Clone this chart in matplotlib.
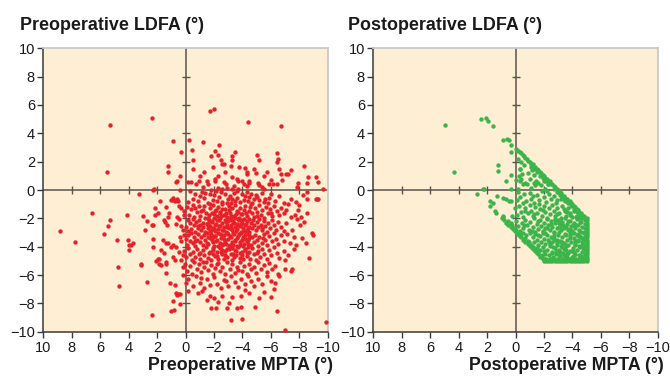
import matplotlib
matplotlib.use("Agg")
import matplotlib.pyplot as plt

plt.rcParams["font.family"] = ["Liberation Sans", "DejaVu Sans"]

# ---- preoperative (MPTA, LDFA) pairs ----
pre_outer = [
    (2.35, 5.1), (5.3, 4.6), (5.5, 1.25), (6.6, -1.65), (8.8, -2.9), (7.8, -3.65),
    (5.75, -3.1), (5.45, -2.55), (5.3, -2.15), (4.85, -3.5), (4.1, -1.75), (4.05, -3.5),
    (3.95, -3.85), (3.8, -3.85), (3.7, -3.75), (3.95, -4.25), (4.75, -5.4), (4.7, -6.8),
    (3.15, -5.3), (3.1, -5.25), (2.7, -6.5), (2.98, -1.8), (2.85, -2.8), (2.7, -2.2),
    (2.35, -8.8), (2.15, -1.25), (2.15, -1.75), (1.95, -1.6), (2.35, -2.5), (2.3, -2.5),
    (2.3, -3.45), (2.3, -4.05), (1.95, -4.85), (1.85, -4.85), (2.05, -5.0), (1.85, -5.2),
    (1.75, -5.3), (1.8, -0.8), (1.4, -1.2), (1.5, -2.15), (1.45, -2.25), (1.3, -2.5),
    (1.15, -1.6), (1.25, -1.9), (1.55, -3.55), (1.4, -3.75), (1.25, -3.75), (1.7, -4.25),
    (1.5, -4.45), (1.4, -5.1), (1.35, -5.25), (1.1, -6.55), (1.35, -5.85), (0.7, -7.3),
    (0.55, -7.35), (0.4, -7.35), (0.85, -7.85), (1.0, -8.55), (0.8, -8.45), (0.6, -7.4),
    (0.4, -8.05), (0.75, -6.7), (0.85, -4.75), (0.75, -4.95), (1.0, -4.0), (0.85, -3.9),
    (0.65, -4.0), (1.05, -0.7), (0.85, -0.7), (0.75, -0.8), (0.55, -0.75), (0.45, -1.1),
    (0.35, -1.3), (0.6, -1.9), (0.45, -2.05), (0.7, -2.4), (0.3, -2.55), (0.2, -2.85),
    (0.1, -3.15), (0.4, -3.3), (0.3, -3.6), (0.45, -4.4), (0.2, -4.6), (0.15, -5.45),
    (0.15, -6.0), (0.0, -6.55), (0.3, -4.95), (0.1, -1.45), (0.1, -1.75), (2.3, 0.0),
    (2.2, 0.05), (3.25, -0.3), (1.2, 1.7), (1.2, 1.3), (0.85, 3.45), (0.3, 2.65),
    (0.37, 1.0), (0.7, 0.55), (0.6, 0.6), (0.4, 0.0), (0.9, -0.55), (0.6, -0.65),
]
pre_upper = [
    (-4.4, 4.8), (-6.7, 4.5), (-1.7, 5.57), (-2.0, 5.74), (-0.25, 3.55), (-1.25, 3.4),
    (-2.35, 3.2), (-0.45, 2.8), (-1.8, 2.4), (-2.1, 2.75), (-2.3, 2.5), (-3.5, 2.7),
    (-3.25, 2.4), (-3.25, 2.15), (-0.5, 2.15), (-2.5, 2.15), (-2.6, 1.85), (-2.7, 1.8),
    (-5.05, 2.45), (-5.2, 2.1), (-6.45, 2.6), (-6.4, 1.95), (-3.2, 1.7), (-3.75, 1.6),
    (-4.15, 1.55), (-4.3, 1.3), (-4.8, 1.5), (-4.95, 1.2), (-1.9, 1.6), (-1.3, 1.3),
    (-0.55, 1.45), (-2.8, 1.25), (-3.3, 0.9), (-3.6, 0.8), (-3.7, 0.6), (-4.3, 1.1),
    (-4.5, 0.6), (-5.5, 1.0), (-6.0, 0.7), (-6.15, 0.4), (-6.6, 1.45), (-6.7, 1.15),
    (-7.1, 1.15), (-7.2, 1.1), (-6.8, 0.7), (-7.4, 1.4), (-8.3, 1.7), (-7.9, 0.5),
    (-7.85, 0.2), (-9.2, 0.9), (-9.35, 0.55), (-9.7, 0.05), (-8.55, 0.5), (-5.9, 0.45),
    (-6.4, 0.4), (-2.7, 0.55), (-2.85, 0.45), (-2.05, 0.65), (-2.1, 0.75), (-1.6, 0.45),
    (-1.5, 0.6), (-0.75, 0.45), (-0.95, 0.6), (-0.4, 0.55), (-0.15, 0.55), (-4.1, 0.45),
    (-4.3, 0.3), (-4.5, 0.5), (-4.0, 0.6), (-5.1, 0.5), (-5.2, 0.35), (-5.4, 0.2),
    (-5.55, 0.05), (-3.4, 0.25), (-3.25, 0.1), (-2.95, 0.15), (-3.7, 0.05), (-1.25, 0.2),
    (-1.8, 0.0), (-2.3, 0.15), (-2.6, 0.1), (-8.6, 0.95), (-6.5, 2.2), (-5.7, 1.3),
    (-1.0, 1.0), (-2.3, 1.0),
]
pre_core = [
    # 0 .. -1
    (-0.35, -0.1), (-0.5, -0.6), (-0.7, -0.3), (-0.9, -0.8), (-1.15, -0.15), (-1.3, -0.55),
    (-1.55, -0.9), (-1.75, -0.3), (-1.95, -0.7), (-2.15, -0.1), (-2.35, -0.5), (-2.6, -0.85),
    (-2.8, -0.25), (-3.0, -0.65), (-3.2, -0.95), (-3.4, -0.2), (-3.65, -0.55), (-3.8, -0.85),
    (-3.95, -0.3), (-4.1, -0.7), (-4.35, -0.15), (-4.5, -0.5), (-4.7, -0.9), (-4.95, -0.35),
    (-5.15, -0.7), (-5.35, -0.2), (-5.6, -0.6), (-5.8, -0.95), (-6.0, -0.3), (-6.3, -0.75),
    (-6.6, -0.45), (-7.2, -1.0), (-7.4, -0.6), (-7.75, -0.85), (-8.25, -0.35), (-8.55, -0.65),
    (-8.55, -0.15), (-9.15, -0.6), (-9.25, -0.65), (-9.3, -0.6), (-1.0, -0.45), (-2.0, -0.35),
    (-2.5, -0.15), (-3.1, -0.4), (-3.6, -0.1), (-4.2, -0.45), (-4.8, -0.6), (-5.5, -0.85),
    (-0.2, -0.85), (-1.7, -1.0), (-2.9, -0.95), (-3.5, -0.75), (-4.6, -0.25), (-5.9, -0.55),
    (-6.9, -0.9), (-1.4, -0.2), (-2.25, -0.75), (-3.3, -0.6), (-4.4, -0.8), (-5.05, -0.5),
    # -1 .. -2
    (-0.1, -1.2), (-0.25, -1.75), (-0.4, -1.35), (-0.55, -1.05), (-0.6, -1.9), (-0.8, -1.55),
    (-0.95, -1.15), (-1.05, -1.8), (-1.2, -1.4), (-1.3, -1.1), (-1.45, -1.65), (-1.6, -1.95),
    (-1.7, -1.3), (-1.85, -1.6), (-1.95, -1.05), (-2.1, -1.45), (-2.2, -1.85), (-2.3, -1.2),
    (-2.45, -1.55), (-2.55, -1.0), (-2.7, -1.75), (-2.8, -1.35), (-2.95, -1.9), (-3.05, -1.15),
    (-3.15, -1.6), (-3.3, -1.3), (-3.4, -1.85), (-3.5, -1.05), (-3.65, -1.5), (-3.75, -1.95),
    (-3.85, -1.25), (-4.0, -1.7), (-4.1, -1.4), (-4.2, -1.1), (-4.35, -1.8), (-4.45, -1.5),
    (-4.55, -1.2), (-4.7, -1.65), (-4.8, -1.9), (-4.9, -1.3), (-5.05, -1.55), (-5.15, -1.05),
    (-5.3, -1.75), (-5.4, -1.4), (-5.55, -1.95), (-5.65, -1.2), (-5.8, -1.6), (-5.95, -1.35),
    (-6.1, -1.85), (-6.2, -1.1), (-6.4, -1.5), (-6.55, -1.75), (-6.75, -1.25), (-6.95, -1.65),
    (-7.1, -1.4), (-7.4, -1.9), (-7.7, -1.75), (-7.9, -1.4), (-8.0, -1.05), (-8.15, -1.9),
    (-8.55, -1.6), (-1.1, -1.5), (-2.0, -1.7), (-2.6, -1.35), (-3.55, -1.7), (-4.6, -1.0),
    (-5.0, -1.85), (-6.0, -1.6), (-0.7, -1.25), (-3.2, -1.95),
    # -2 .. -3
    (-0.05, -2.6), (-0.15, -2.15), (-0.2, -2.9), (-0.3, -2.35), (-0.4, -2.75), (-0.5, -2.05),
    (-0.6, -2.5), (-0.7, -2.95), (-0.75, -2.25), (-0.85, -2.7), (-0.95, -2.1), (-1.0, -2.45),
    (-1.1, -2.85), (-1.2, -2.3), (-1.25, -2.6), (-1.35, -2.0), (-1.4, -2.95), (-1.5, -2.4),
    (-1.55, -2.7), (-1.65, -2.15), (-1.7, -2.55), (-1.8, -2.85), (-1.85, -2.25), (-1.95, -2.65),
    (-2.0, -2.0), (-2.1, -2.9), (-2.15, -2.4), (-2.25, -2.15), (-2.3, -2.75), (-2.4, -2.55),
    (-2.45, -2.0), (-2.55, -2.85), (-2.6, -2.3), (-2.7, -2.6), (-2.75, -2.1), (-2.85, -2.95),
    (-2.9, -2.45), (-3.0, -2.2), (-3.05, -2.7), (-3.15, -2.05), (-3.2, -2.5), (-3.3, -2.85),
    (-3.35, -2.25), (-3.45, -2.6), (-3.5, -2.0), (-3.6, -2.4), (-3.65, -2.75), (-3.75, -2.15),
    (-3.8, -2.55), (-3.9, -2.95), (-3.95, -2.3), (-4.05, -2.65), (-4.1, -2.05), (-4.2, -2.45),
    (-4.3, -2.8), (-4.35, -2.2), (-4.45, -2.6), (-4.5, -2.95), (-4.6, -2.35), (-4.7, -2.7),
    (-4.75, -2.1), (-4.85, -2.5), (-4.95, -2.85), (-5.0, -2.25), (-5.1, -2.6), (-5.2, -2.05),
    (-5.3, -2.45), (-5.4, -2.8), (-5.5, -2.2), (-5.6, -2.55), (-5.7, -2.95), (-5.8, -2.35),
    (-5.95, -2.7), (-6.05, -2.1), (-6.2, -2.5), (-6.35, -2.85), (-6.5, -2.25), (-6.7, -2.6),
    (-6.9, -2.9), (-7.1, -2.3), (-7.5, -2.8), (-7.85, -2.05), (-8.05, -2.45), (-8.3, -2.25),
    (-2.05, -2.5), (-2.95, -2.6), (-3.7, -2.45), (-1.6, -2.35), (-4.15, -2.9), (-5.35, -2.65),
    (-0.9, -2.55),
    # -3 .. -4
    (0.0, -3.45), (-0.1, -3.85), (-0.2, -3.15), (-0.3, -3.6), (-0.4, -3.05), (-0.5, -3.75),
    (-0.6, -3.3), (-0.7, -3.95), (-0.8, -3.5), (-0.9, -3.1), (-1.0, -3.7), (-1.1, -3.35),
    (-1.2, -3.9), (-1.3, -3.2), (-1.4, -3.55), (-1.5, -3.0), (-1.6, -3.8), (-1.7, -3.4),
    (-1.8, -3.15), (-1.9, -3.65), (-2.0, -3.95), (-2.1, -3.25), (-2.2, -3.5), (-2.3, -3.05),
    (-2.4, -3.75), (-2.5, -3.4), (-2.6, -3.9), (-2.7, -3.2), (-2.8, -3.6), (-2.9, -3.0),
    (-3.0, -3.45), (-3.1, -3.85), (-3.2, -3.3), (-3.3, -3.7), (-3.4, -3.1), (-3.5, -3.55),
    (-3.6, -3.95), (-3.7, -3.25), (-3.8, -3.65), (-3.9, -3.05), (-4.0, -3.5), (-4.1, -3.8),
    (-4.2, -3.2), (-4.3, -3.6), (-4.4, -3.0), (-4.5, -3.4), (-4.6, -3.9), (-4.7, -3.3),
    (-4.8, -3.7), (-4.9, -3.15), (-5.0, -3.55), (-5.1, -3.95), (-5.2, -3.35), (-5.35, -3.75),
    (-5.5, -3.1), (-5.6, -3.5), (-5.75, -3.85), (-5.9, -3.25), (-6.05, -3.6), (-6.2, -3.05),
    (-6.35, -3.45), (-6.5, -3.8), (-6.7, -3.2), (-6.9, -3.6), (-7.15, -3.1), (-7.35, -3.75),
    (-7.6, -3.35), (-7.8, -3.9), (-8.2, -3.4), (-8.45, -3.75), (-8.9, -3.05), (-8.95, -3.2),
    (-1.55, -3.3), (-2.45, -3.1), (-3.35, -3.85), (-4.25, -3.45), (-2.85, -3.8), (-0.65, -3.6),
    (-5.45, -3.4), (-1.95, -3.3), (-3.95, -3.55),
    # -4 .. -5
    (0.1, -4.3), (-0.05, -4.75), (-0.2, -4.1), (-0.3, -4.55), (-0.45, -4.95), (-0.55, -4.35),
    (-0.7, -4.7), (-0.8, -4.15), (-0.95, -4.5), (-1.05, -4.9), (-1.2, -4.25), (-1.3, -4.6),
    (-1.45, -4.05), (-1.55, -4.8), (-1.7, -4.4), (-1.8, -4.95), (-1.95, -4.2), (-2.05, -4.65),
    (-2.2, -4.35), (-2.3, -4.85), (-2.45, -4.1), (-2.55, -4.55), (-2.7, -4.9), (-2.8, -4.3),
    (-2.95, -4.7), (-3.05, -4.15), (-3.2, -4.5), (-3.3, -4.95), (-3.45, -4.25), (-3.55, -4.6),
    (-3.7, -4.05), (-3.8, -4.8), (-3.95, -4.4), (-4.05, -4.9), (-4.2, -4.2), (-4.3, -4.65),
    (-4.45, -4.35), (-4.55, -4.85), (-4.7, -4.1), (-4.8, -4.55), (-4.95, -4.95), (-5.1, -4.3),
    (-5.25, -4.7), (-5.4, -4.15), (-5.55, -4.5), (-5.7, -4.9), (-5.85, -4.25), (-6.0, -4.6),
    (-6.2, -4.05), (-6.4, -4.45), (-6.6, -4.8), (-6.9, -4.3), (-7.0, -4.95), (-7.2, -4.6),
    (-7.6, -4.15), (-8.7, -4.8), (-1.0, -4.45), (-2.6, -4.25), (-3.4, -4.7), (-4.4, -4.0),
    (-5.0, -4.45), (-1.9, -4.55),
    # -5 .. -6
    (0.05, -5.2), (-0.1, -5.7), (-0.3, -5.35), (-0.45, -5.9), (-0.6, -5.1), (-0.8, -5.55),
    (-0.95, -5.25), (-1.1, -5.8), (-1.3, -5.45), (-1.45, -5.05), (-1.6, -5.65), (-1.8, -5.3),
    (-1.95, -5.95), (-2.1, -5.5), (-2.3, -5.15), (-2.45, -5.75), (-2.6, -5.4), (-2.8, -5.9),
    (-2.95, -5.05), (-3.1, -5.6), (-3.3, -5.25), (-3.45, -5.85), (-3.6, -5.45), (-3.8, -5.1),
    (-3.95, -5.7), (-4.1, -5.35), (-4.3, -5.95), (-4.45, -5.2), (-4.6, -5.6), (-4.8, -5.4),
    (-4.95, -5.85), (-5.1, -5.1), (-5.3, -5.55), (-5.5, -5.3), (-5.7, -5.8), (-5.9, -5.15),
    (-6.1, -5.6), (-6.3, -5.35), (-6.5, -5.9), (-7.0, -5.6), (-7.4, -5.75), (-7.5, -5.6),
    (-2.2, -5.25), (-3.7, -5.65), (-1.2, -5.1),
    # -6 .. -7
    (-0.2, -6.3), (-0.5, -6.8), (-0.75, -6.1), (-1.0, -6.55), (-1.3, -6.95), (-1.5, -6.25),
    (-1.75, -6.7), (-2.0, -6.15), (-2.25, -6.6), (-2.5, -6.9), (-2.7, -6.35), (-3.0, -6.75),
    (-3.2, -6.1), (-3.45, -6.5), (-3.7, -6.85), (-3.9, -6.3), (-4.15, -6.65), (-4.4, -6.05),
    (-4.6, -6.45), (-4.85, -6.8), (-5.1, -6.25), (-5.35, -6.6), (-5.7, -6.1), (-6.0, -6.4),
    (-6.3, -6.55), (-6.6, -6.05), (-1.1, -6.2), (-2.85, -6.45),
    # -7 .. -10
    (-0.15, -7.1), (-0.9, -7.3), (-1.15, -7.1), (-1.75, -7.5), (-2.0, -7.65), (-2.6, -7.45),
    (-2.3, -7.9), (-3.05, -7.95), (-3.3, -7.55), (-3.9, -7.5), (-4.5, -7.3), (-5.2, -7.6),
    (-5.5, -7.2), (-6.0, -7.55), (-6.2, -7.0), (-4.2, -7.05), (-1.5, -7.75),
    (-1.8, -8.3), (-2.15, -8.3), (-2.9, -8.3), (-3.2, -9.2), (-4.0, -9.1), (-3.9, -8.25),
    (-3.6, -8.3), (-4.9, -8.25), (-6.4, -8.55), (-7.0, -9.85), (-9.9, -9.35),
]
# densest part of the preoperative cloud
pre_center = [
    (-1.62, -1.78), (-2.33, -2.12), (-2.87, -1.62), (-3.42, -2.33), (-3.93, -1.72),
    (-4.38, -2.68), (-1.77, -3.08), (-2.18, -3.62), (-2.64, -2.83), (-3.12, -3.27),
    (-3.58, -2.92), (-4.07, -3.33), (-4.42, -3.83), (-1.92, -4.12), (-2.47, -4.38),
    (-3.03, -3.93), (-3.52, -4.27), (-3.98, -4.62), (-1.58, -2.48), (-2.02, -2.77),
    (-2.72, -3.47), (-3.27, -2.13), (-3.77, -3.12), (-4.23, -2.38), (-2.53, -1.87),
    (-3.07, -1.42), (-3.68, -1.57), (-4.28, -1.63), (-1.83, -3.52), (-2.28, -3.92),
    (-2.93, -4.17), (-3.33, -4.52), (-3.83, -3.87), (-4.17, -4.17), (-1.67, -4.48),
    (-2.12, -1.38), (-2.57, -3.17), (-3.18, -2.67), (-3.63, -3.42), (-4.12, -2.87),
    (-4.47, -3.18), (-1.73, -2.92), (-2.38, -2.57), (-2.98, -3.08), (-3.47, -3.63),
    (-3.88, -2.43), (-4.33, -4.43), (-2.22, -4.68), (-2.78, -4.62), (-3.22, -1.83),
    (-3.72, -2.08), (-4.02, -3.97), (-2.43, -1.62), (-1.88, -2.22), (-2.67, -3.83),
    (-3.37, -3.02), (-3.82, -4.42), (-4.37, -3.52), (-1.52, -3.73), (-2.08, -3.28),
    (-2.83, -2.23), (-3.28, -4.08), (-3.97, -2.12), (-4.48, -2.03),
]

# ---- postoperative (MPTA, LDFA) pairs ----
post_outer = [
    (4.95, 4.6), (4.3, 1.3), (2.4, 5.0), (2.05, 5.05), (1.9, 4.9), (1.55, 4.55), (0.9, 3.5),
    (0.6, 3.6), (0.45, 3.5), (0.3, 3.2), (0.3, 2.7), (1.2, 1.75), (1.2, 1.35), (0.65, 0.6),
    (0.3, 1.05), (2.7, -0.25), (2.3, 0.05), (2.2, 0.05), (1.8, -0.75), (1.55, -0.9),
    (1.8, -1.1), (1.45, -1.5), (1.35, -1.65), (1.3, -0.4), (0.85, -0.55), (0.65, -0.65),
    (0.45, -0.75), (0.35, -0.8), (0.35, 0.05), (0.9, -1.8), (0.25, -1.8),
]
post_edge = [
    # upper diagonal
    (0.0, 2.9), (-0.1, 2.85), (-0.2, 2.75), (-0.3, 2.65), (-0.4, 2.6), (-0.5, 2.45),
    (-0.6, 2.4), (-0.7, 2.25), (-0.8, 2.2), (-0.9, 2.05), (-1.0, 2.0), (-1.1, 1.85),
    (-1.2, 1.8), (-1.3, 1.65), (-1.4, 1.6), (-1.5, 1.45), (-1.6, 1.4), (-1.7, 1.25),
    (-1.8, 1.2), (-1.9, 1.05), (-2.0, 1.0), (-2.1, 0.85), (-2.2, 0.8), (-2.3, 0.65),
    (-2.4, 0.6), (-2.5, 0.45), (-2.6, 0.4), (-2.7, 0.25), (-2.8, 0.2), (-2.9, 0.05),
    (-3.0, 0.0), (-3.1, -0.15), (-3.2, -0.2), (-3.3, -0.35), (-3.4, -0.4), (-3.5, -0.55),
    (-3.6, -0.6), (-3.7, -0.75), (-3.8, -0.8), (-3.9, -0.95), (-4.0, -1.0), (-4.1, -1.15),
    (-4.2, -1.2), (-4.3, -1.35), (-4.4, -1.4), (-4.5, -1.55), (-4.6, -1.6), (-4.7, -1.75),
    (-4.8, -1.8), (-4.9, -1.95), (-5.0, -2.0),
    (-1.1, 1.65), (-1.5, 1.25), (-1.9, 0.85), (-2.3, 0.45), (-2.7, 0.05), (-3.1, -0.35),
    (-3.5, -0.75), (-3.9, -1.15), (-4.3, -1.55), (-4.7, -1.95), (-2.1, 0.65), (-2.9, -0.15),
    (-3.7, -0.95), (-4.5, -1.75), (-1.3, 1.45), (-3.3, -0.55), (-4.1, -1.35),
    # right edge
    (-5.0, -2.15), (-5.0, -2.3), (-5.0, -2.45), (-5.0, -2.6), (-5.0, -2.75), (-5.0, -2.9),
    (-5.0, -3.05), (-5.0, -3.2), (-5.0, -3.35), (-5.0, -3.5), (-5.0, -3.65), (-5.0, -3.8),
    (-5.0, -3.95), (-5.0, -4.1), (-5.0, -4.25), (-5.0, -4.4), (-5.0, -4.55), (-5.0, -4.7),
    (-5.0, -4.85), (-5.0, -5.0), (-4.9, -2.1), (-4.9, -2.4), (-4.88, -2.7), (-4.9, -3.0),
    (-4.88, -3.3), (-4.9, -3.6), (-4.9, -3.9), (-4.88, -4.2), (-4.9, -4.5), (-4.9, -4.8),
    # bottom edge
    (-2.0, -5.0), (-2.15, -5.0), (-2.3, -5.0), (-2.45, -5.0), (-2.6, -5.0), (-2.75, -5.0),
    (-2.9, -5.0), (-3.05, -5.0), (-3.2, -5.0), (-3.35, -5.0), (-3.5, -5.0), (-3.65, -5.0),
    (-3.8, -5.0), (-3.95, -5.0), (-4.1, -5.0), (-4.25, -5.0), (-4.4, -5.0), (-4.55, -5.0),
    (-4.7, -5.0), (-4.85, -5.0), (-2.1, -4.9), (-2.4, -4.9), (-2.7, -4.88), (-3.0, -4.9),
    (-3.3, -4.9), (-3.6, -4.88), (-3.9, -4.9), (-4.2, -4.9), (-4.5, -4.88), (-4.8, -4.9),
    # lower diagonal
    (0.95, -2.0), (0.8, -2.15), (0.65, -2.3), (0.5, -2.45), (0.35, -2.6), (0.2, -2.75),
    (0.05, -2.9), (-0.1, -3.05), (-0.25, -3.2), (-0.4, -3.35), (-0.55, -3.5), (-0.7, -3.65),
    (-0.85, -3.8), (-1.0, -3.95), (-1.15, -4.1), (-1.3, -4.25), (-1.45, -4.4), (-1.6, -4.55),
    (-1.75, -4.7), (-1.9, -4.85), (0.85, -1.9), (0.55, -2.2), (0.25, -2.5), (-0.05, -2.8),
    (-0.35, -3.1), (-0.65, -3.4), (-0.95, -3.7), (-1.25, -4.0), (-1.55, -4.3), (-1.85, -4.6),
]
post_core = [
    (-0.3, 1.45), (-0.35, 1.5), (-0.45, 1.1), (-0.4, 2.0), (-1.15, 1.4), (-1.3, 1.05),
    (-1.2, 1.5), (-0.05, 0.7), (-0.4, 0.8), (-0.55, 0.45), (-0.8, 0.4), (-1.45, 0.65),
    (-1.6, 0.5), (-1.4, 0.35), (-0.3, 0.6), (-0.65, 0.5), (-1.3, 0.5), (-1.8, 0.35),
    (-2.0, 0.6), (-2.3, 0.4), (-1.1, 0.15), (-0.2, 0.1), (-2.1, 0.05), (-1.0, 0.75),
    (-0.25, 1.0), (-0.85, 1.2), (-1.7, 1.0), (-0.15, 2.2), (-0.6, 1.75),
    (-0.2, -0.15), (-0.35, -0.5), (-0.6, -0.3), (-0.75, -0.8), (-1.0, -0.2), (-1.1, -0.6),
    (-1.3, -0.95), (-1.5, -0.35), (-1.65, -0.7), (-1.85, -0.1), (-2.0, -0.5), (-2.15, -0.85),
    (-2.35, -0.25), (-2.5, -0.65), (-2.7, -0.4), (-2.85, -0.9), (-3.0, -0.15), (-3.2, -0.6),
    (-3.45, -0.7), (-3.6, -0.8), (-3.8, -0.95), (-0.1, -0.7), (-1.2, -0.45), (-2.25, -0.05),
    (-2.95, -0.7), (-0.5, -0.95),
    (0.05, -1.3), (-0.1, -1.75), (-0.25, -1.1), (-0.4, -1.55), (-0.55, -1.9), (-0.7, -1.25),
    (-0.85, -1.65), (-1.0, -1.05), (-1.1, -1.45), (-1.25, -1.85), (-1.4, -1.2), (-1.5, -1.6),
    (-1.65, -1.0), (-1.75, -1.35), (-1.85, -1.8), (-2.0, -1.15), (-2.1, -1.55), (-2.2, -1.95),
    (-2.35, -1.3), (-2.45, -1.7), (-2.6, -1.05), (-2.7, -1.45), (-2.8, -1.85), (-2.95, -1.25),
    (-3.05, -1.6), (-3.2, -1.95), (-3.3, -1.1), (-3.45, -1.5), (-3.55, -1.85), (-3.7, -1.3),
    (-3.85, -1.65), (-4.0, -1.9), (-4.1, -1.45), (-4.3, -1.8), (-4.45, -1.95), (-1.95, -1.4),
    (-2.9, -1.7), (-3.6, -1.55), (-0.65, -1.45), (-1.3, -1.7),
    (0.3, -2.3), (0.1, -2.7), (-0.05, -2.2), (-0.15, -2.55), (-0.3, -2.9), (-0.45, -2.35),
    (-0.55, -2.7), (-0.7, -2.1), (-0.8, -2.5), (-0.95, -2.85), (-1.05, -2.25), (-1.2, -2.6),
    (-1.3, -2.0), (-1.4, -2.95), (-1.5, -2.4), (-1.6, -2.75), (-1.7, -2.15), (-1.8, -2.55),
    (-1.9, -2.9), (-2.0, -2.3), (-2.1, -2.65), (-2.2, -2.05), (-2.3, -2.45), (-2.4, -2.8),
    (-2.5, -2.2), (-2.6, -2.6), (-2.7, -2.95), (-2.8, -2.35), (-2.9, -2.7), (-3.0, -2.1),
    (-3.1, -2.5), (-3.2, -2.85), (-3.3, -2.25), (-3.4, -2.65), (-3.5, -2.0), (-3.6, -2.4),
    (-3.7, -2.8), (-3.8, -2.2), (-3.9, -2.55), (-4.0, -2.9), (-4.1, -2.3), (-4.2, -2.7),
    (-4.3, -2.05), (-4.4, -2.45), (-4.5, -2.85), (-4.6, -2.25), (-4.7, -2.6), (-4.8, -2.95),
    (-2.25, -2.7), (-3.05, -2.35), (-3.85, -2.75), (-1.55, -2.2), (-2.75, -2.15), (-4.05, -2.5),
    (-0.6, -2.5), (-1.15, -2.9), (-3.55, -2.6),
    (-0.2, -3.1), (-0.35, -3.25), (-0.5, -3.05), (-0.6, -3.45), (-0.75, -3.2), (-0.9, -3.6),
    (-1.0, -3.0), (-1.1, -3.85), (-1.2, -3.35), (-1.3, -3.7), (-1.4, -3.1), (-1.5, -3.5),
    (-1.6, -3.9), (-1.7, -3.25), (-1.8, -3.65), (-1.9, -3.0), (-2.0, -3.45), (-2.1, -3.8),
    (-2.2, -3.15), (-2.3, -3.55), (-2.4, -3.95), (-2.5, -3.3), (-2.6, -3.7), (-2.7, -3.05),
    (-2.8, -3.5), (-2.9, -3.85), (-3.0, -3.2), (-3.1, -3.6), (-3.2, -3.95), (-3.3, -3.35),
    (-3.4, -3.75), (-3.5, -3.1), (-3.6, -3.5), (-3.7, -3.9), (-3.8, -3.25), (-3.9, -3.65),
    (-4.0, -3.0), (-4.1, -3.4), (-4.2, -3.8), (-4.3, -3.15), (-4.4, -3.55), (-4.5, -3.95),
    (-4.6, -3.3), (-4.7, -3.7), (-4.8, -3.05), (-4.75, -3.45), (-2.05, -3.05), (-2.65, -3.4),
    (-3.25, -3.7), (-3.85, -3.05), (-4.45, -3.25), (-1.55, -3.2), (-2.95, -3.55), (-4.15, -3.6),
    (-3.55, -3.85), (-2.35, -3.65), (-4.65, -3.9),
    (-1.2, -4.05), (-1.35, -4.2), (-1.5, -4.1), (-1.6, -4.45), (-1.75, -4.25), (-1.85, -4.7),
    (-1.95, -4.05), (-2.05, -4.5), (-2.15, -4.85), (-2.25, -4.2), (-2.35, -4.6), (-2.45, -4.9),
    (-2.55, -4.35), (-2.65, -4.7), (-2.75, -4.1), (-2.85, -4.5), (-2.95, -4.85), (-3.05, -4.25),
    (-3.15, -4.65), (-3.25, -4.05), (-3.35, -4.45), (-3.45, -4.8), (-3.55, -4.2), (-3.65, -4.55),
    (-3.75, -4.9), (-3.85, -4.3), (-3.95, -4.7), (-4.05, -4.1), (-4.15, -4.5), (-4.25, -4.85),
    (-4.35, -4.25), (-4.45, -4.6), (-4.55, -4.05), (-4.65, -4.4), (-4.75, -4.75), (-4.8, -4.15),
    (-2.6, -4.45), (-3.1, -4.4), (-3.6, -4.75), (-4.1, -4.35), (-4.6, -4.65), (-3.4, -4.15),
    (-2.0, -4.3),
]
# denser lower-right part of the postoperative cloud
post_dense = [
    (-3.12, -2.62), (-3.68, -2.17), (-4.23, -2.48), (-4.62, -2.93), (-2.72, -3.28),
    (-3.27, -3.72), (-3.83, -3.38), (-4.37, -3.62), (-4.72, -4.12), (-2.88, -4.28),
    (-3.42, -4.62), (-3.97, -4.27), (-4.52, -4.78), (-2.53, -2.42), (-3.03, -2.93),
    (-3.57, -3.17), (-4.13, -3.03), (-4.67, -3.42), (-2.43, -3.82), (-2.98, -4.52),
    (-3.52, -3.97), (-4.08, -4.62), (-4.57, -2.28), (-3.83, -1.73), (-3.38, -1.32),
    (-4.27, -1.92), (-2.78, -2.02), (-3.17, -2.27), (-4.43, -3.08), (-3.72, -4.48),
    (-2.62, -4.02), (-4.18, -3.88), (-3.33, -2.48), (-2.93, -3.77),
]

ticks = list(range(-10, 11, 2))
bg = "#FEEFD4"
axis_dark = "#3a3a3a"
cross = "#5a524c"

W, H = 670, 376
fig = plt.figure(figsize=(6.7, 3.76), dpi=100)


def panel(left_px, pts, color, title, xlabel, title_x, xlabel_right):
    ax = fig.add_axes([left_px / W, (H - 331.7) / H, 284.4 / W, 283.4 / H])
    ax.set_facecolor(bg)
    ax.set_xlim(10, -10)
    ax.set_ylim(-10, 10)
    ax.set_xticks(ticks)
    ax.set_yticks(ticks)
    ax.tick_params(direction="out", length=4, width=1, color=axis_dark,
                   labelsize=10.5, pad=2, labelcolor="#1a1a1a")
    ax.tick_params(axis="x", pad=3)
    for side in ("left", "bottom"):
        ax.spines[side].set_color(axis_dark)
        ax.spines[side].set_linewidth(1.1)
    for side in ("top", "right"):
        ax.spines[side].set_color("#c9c9c9")
        ax.spines[side].set_linewidth(1.3)

    # centre cross with its own small ticks
    ax.axhline(0, color=cross, lw=1.1, zorder=1)
    ax.axvline(0, color=cross, lw=1.1, zorder=1)
    inner = [t for t in ticks if t not in (0, 10, -10)]
    ax.plot(inner, [0] * len(inner), ls="none", marker="|", ms=6, mew=1,
            color=cross, zorder=1)
    ax.plot([0] * len(inner), inner, ls="none", marker="_", ms=6, mew=1,
            color=cross, zorder=1)

    xs = [p[0] for p in pts]
    ys = [p[1] for p in pts]
    ax.scatter(xs, ys, s=10, color=color, linewidths=0, zorder=3, clip_on=False)

    fig.text(title_x / W, 1 - 25 / H, title, fontsize=12.9, fontweight="bold",
             va="center", ha="left", color="#1a1a1a")
    fig.text(xlabel_right / W, 1 - 366 / H, xlabel, fontsize=12.8,
             fontweight="bold", va="center", ha="right", color="#1a1a1a")
    return ax


panel(43.3, pre_outer + pre_upper + pre_core + pre_center, "#E8202A",
      "Preoperative LDFA (°)", "Preoperative MPTA (°)", 20, 333)
panel(373.3, post_outer + post_edge + post_core + post_dense, "#3BB44A",
      "Postoperative LDFA (°)", "Postoperative MPTA (°)", 348, 664)

fig.savefig("out.png", dpi=100)
